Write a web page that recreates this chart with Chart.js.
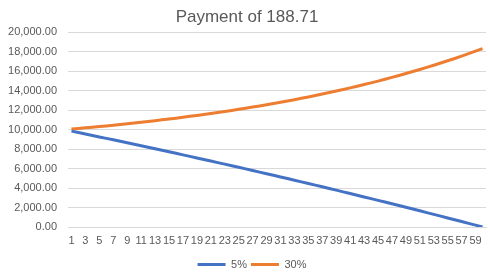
<!DOCTYPE html>
<html>
<head>
<meta charset="utf-8">
<script src="https://cdn.jsdelivr.net/npm/chart.js@4/dist/chart.umd.min.js"></script>
<style>
  html, body { margin: 0; padding: 0; background: #ffffff; overflow: hidden; }
  #wrap { width: 490px; height: 277px; }
</style>
</head>
<body>
<div id="wrap"><canvas id="c" width="490" height="277"></canvas></div>
<script>
// Month numbers 1..60
const months = [1,2,3,4,5,6,7,8,9,10,11,12,13,14,15,16,17,18,19,20,
  21,22,23,24,25,26,27,28,29,30,31,32,33,34,35,36,37,38,39,40,
  41,42,43,44,45,46,47,48,49,50,51,52,53,54,55,56,57,58,59,60];

// Remaining balance at 5% annual
const balance5 = [9852.96,9705.30,9557.03,9408.14,9258.63,9108.50,8957.74,8806.36,8654.34,8501.69,
  8348.40,8194.48,8039.91,7884.70,7728.84,7572.33,7415.17,7257.36,7098.89,6939.76,
  6779.96,6619.50,6458.38,6296.58,6134.11,5970.96,5807.12,5642.61,5477.41,5311.53,
  5144.95,4977.68,4809.70,4641.04,4471.66,4301.58,4130.80,3959.30,3787.09,3614.16,
  3440.51,3266.14,3091.04,2915.22,2738.65,2561.35,2383.31,2204.53,2025.00,1844.73,
  1663.70,1481.93,1299.39,1116.09,932.03,747.21,561.61,375.24,188.09,0.00];

// Remaining balance at 30% annual
const balance30 = [10061.29,10124.11,10188.51,10254.51,10322.16,10391.50,10462.58,10535.44,10610.11,10686.66,
  10765.11,10845.53,10927.96,11012.45,11099.05,11187.82,11278.80,11372.06,11467.65,11565.63,
  11666.06,11769.00,11874.52,11982.67,12093.53,12207.16,12323.63,12443.01,12565.37,12690.80,
  12819.36,12951.13,13086.20,13224.64,13366.55,13512.00,13661.09,13813.91,13970.55,14131.10,
  14295.67,14464.35,14637.25,14814.47,14996.12,15182.32,15373.17,15568.79,15769.29,15974.82,
  16185.48,16401.40,16622.73,16849.59,17082.12,17320.46,17564.76,17815.17,18071.84,18334.93];

const seriesNames = ['5%', '30%'];
const titleText = 'Payment of 188.71';
const yMin = 0, yMax = 20000, yStep = 2000;

const FONT = '"Liberation Sans", Arial, sans-serif';
const TXT = '#595959';

// nudge the title and legend boxes horizontally to match the reference placement
const nudgeBoxes = {
  id: 'nudgeBoxes',
  afterLayout(chart) {
    if (chart.titleBlock) { chart.titleBlock.left += 4; chart.titleBlock.right += 4; }
    if (chart.legend) { chart.legend.left += 9; chart.legend.right += 9; }
  }
};

new Chart(document.getElementById('c'), {
  type: 'line',
  data: {
    labels: months,
    datasets: [
      { label: seriesNames[0], data: balance5, borderColor: '#4472C4', backgroundColor: '#4472C4',
        borderWidth: 3, pointRadius: 0, tension: 0, fill: false },
      { label: seriesNames[1], data: balance30, borderColor: '#ED7D31', backgroundColor: '#ED7D31',
        borderWidth: 3, pointRadius: 0, tension: 0, fill: false }
    ]
  },
  plugins: [nudgeBoxes],
  options: {
    responsive: false,
    devicePixelRatio: 1,
    animation: false,
    layout: { padding: { left: 0, right: 4, top: 0, bottom: -3 } },
    plugins: {
      title: {
        display: true, text: titleText, color: TXT,
        font: { family: FONT, size: 17, weight: 'normal', lineHeight: 1.2 },
        padding: { top: 7, bottom: 5 }
      },
      legend: {
        display: true, position: 'bottom',
        labels: {
          color: TXT, font: { family: FONT, size: 11 },
          usePointStyle: true, pointStyle: 'line', pointStyleWidth: 28, padding: 4
        }
      },
      tooltip: { enabled: false }
    },
    scales: {
      x: {
        offset: true,
        grid: { display: false, drawTicks: false },
        border: { display: true, color: '#D9D9D9', width: 1 },
        ticks: {
          color: TXT, font: { family: FONT, size: 11 },
          autoSkip: false, maxRotation: 0, minRotation: 0, padding: 7,
          callback: function(v, i) { return i % 2 === 0 ? this.getLabelForValue(v) : ''; }
        },
        afterFit: s => { s.height = 28; }
      },
      y: {
        min: yMin, max: yMax,
        grid: { color: '#D9D9D9', lineWidth: 1, drawTicks: false },
        border: { display: false },
        ticks: {
          stepSize: yStep, color: TXT, font: { family: FONT, size: 11 }, padding: 11,
          callback: v => Number(v).toLocaleString('en-US', { minimumFractionDigits: 2, maximumFractionDigits: 2 })
        },
        afterFit: s => { s.width = 68; }
      }
    }
  }
});
</script>
</body>
</html>
